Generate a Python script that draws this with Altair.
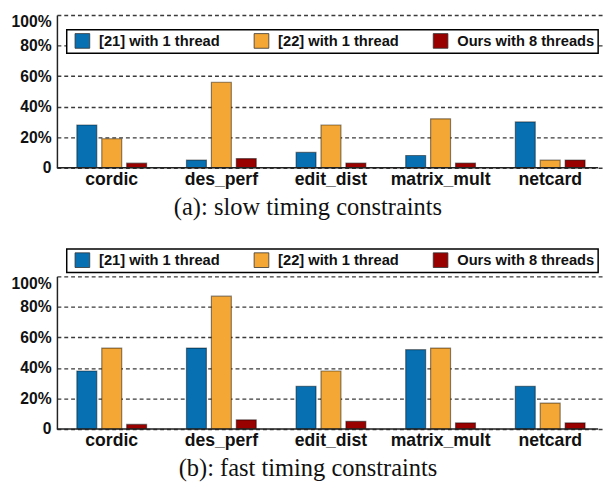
import altair as alt
import pandas as pd

categories = ["cordic", "des_perf", "edit_dist", "matrix_mult", "netcard"]
series = ["[21] with 1 thread", "[22] with 1 thread", "Ours with 8 threads"]
slow_21 = [28, 5, 10, 8, 30]
slow_22 = [19, 56, 28, 32, 5]
slow_ours = [3, 6, 3, 3, 5]
fast_21 = [38, 53, 28, 52, 28]
fast_22 = [53, 87, 38, 53, 17]
fast_ours = [3, 6, 5, 4, 4]
y_ticks = [0, 20, 40, 60, 80, 100]
colors = ["#0670b3", "#f4a734", "#990000"]
captions = ["(a): slow timing constraints", "(b): fast timing constraints"]

SANS = "Liberation Sans"
SERIF = "Liberation Serif"


def to_long(vals):
    rows = []
    for s, v in zip(series, vals):
        for c, x in zip(categories, v):
            rows.append({"bench": c, "method": s, "value": x})
    return pd.DataFrame(rows)


def panel(df, caption, legend_y):
    bars = alt.Chart(df).mark_bar(
        stroke="black", strokeOpacity=0.45, strokeWidth=1.2
    ).encode(
        x=alt.X(
            "bench:N",
            sort=categories,
            scale=alt.Scale(range=[0, 560], paddingInner=0, paddingOuter=0),
            axis=alt.Axis(
                title=None, labelAngle=0, domain=False, ticks=False,
                labelPadding=3, labelFont=SANS, labelFontSize=18,
                labelFontWeight="bold", labelColor="#111",
            ),
        ),
        xOffset=alt.XOffset(
            "method:N", sort=series,
            scale=alt.Scale(paddingInner=0.2, paddingOuter=0.8),
        ),
        y=alt.Y(
            "value:Q",
            scale=alt.Scale(domain=[0, 100], nice=False),
            axis=alt.Axis(
                values=y_ticks, tickCount=20, title=None, labelOverlap=False,
                labelExpr="datum.value == 0 ? '0' : datum.value + '%'",
                grid=True, gridDash=[4, 3], gridColor="#3a3a3a", gridWidth=1.4,
                domainColor="#222", domainWidth=1.5, ticks=False, tickSize=0,
                labelPadding=6, labelFont=SANS, labelFontSize=16,
                labelFontWeight="bold", labelColor="#111",
                labelOffset={"condition": {"test": "datum.value == 100", "value": 7}, "value": 0},
            ),
        ),
        color=alt.Color(
            "method:N", sort=series,
            scale=alt.Scale(domain=series, range=colors),
            legend=alt.Legend(
                title=None, orient="none", legendX=10, legendY=legend_y,
                direction="horizontal", strokeColor="black",
                fillColor="white", padding=3, symbolType="square",
                symbolSize=225, symbolOffset=5, symbolStrokeColor="#333",
                symbolStrokeWidth=0.8, labelFont=SANS, labelFontSize=15,
                labelFontWeight="bold", labelColor="#111", labelOffset=9,
                columnPadding=29, labelLimit=400,
            ),
        ),
    )
    base = alt.Chart(pd.DataFrame({"base": [0]})).mark_rule(
        color="#222", strokeWidth=1.5
    ).encode(y="base:Q")
    return alt.layer(bars, base).properties(
        width=553, height=156,
        title=alt.TitleParams(
            caption, orient="bottom", font=SERIF, fontSize=25,
            fontWeight="normal", color="#111", anchor="middle",
            frame="bounds", offset=7,
        ),
    )


top = panel(to_long([slow_21, slow_22, slow_ours]), captions[0], 15)
bottom = panel(to_long([fast_21, fast_22, fast_ours]), captions[1], -28)

chart = alt.vconcat(top, bottom, spacing=29).resolve_scale(
    color="independent"
).properties(
    padding={"left": 3, "top": 1, "right": 0, "bottom": 0}
).configure_view(strokeWidth=0).configure_legend(strokeWidth=1.5)

chart.save("out.html", embed_options={"renderer": "svg", "actions": False})
